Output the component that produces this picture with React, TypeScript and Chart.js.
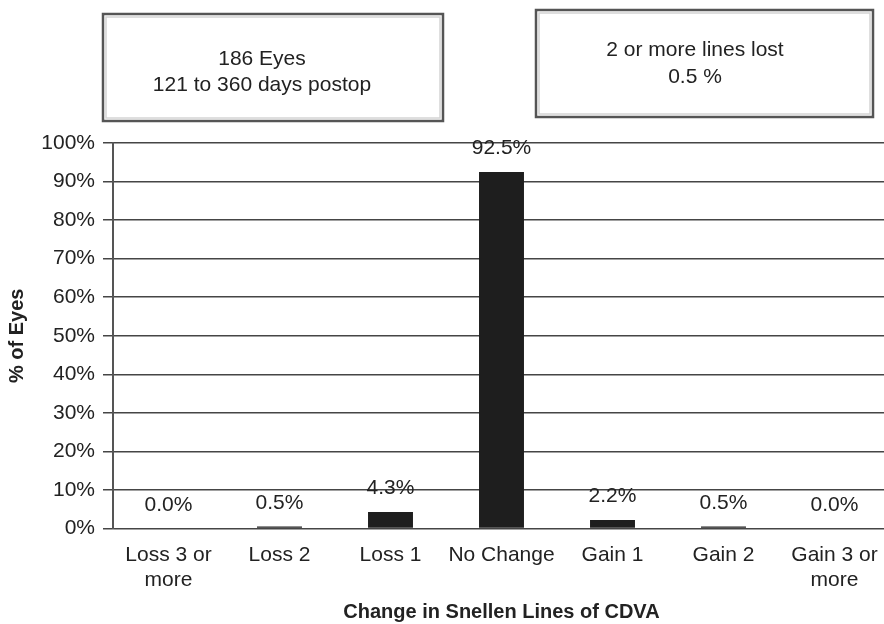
import React, { useEffect, useRef } from "react";
import { Chart, registerables } from "chart.js";

Chart.register(...registerables);

const categories: string[][] = [
  ["Loss 3 or", "more"],
  ["Loss 2"],
  ["Loss 1"],
  ["No Change"],
  ["Gain 1"],
  ["Gain 2"],
  ["Gain 3 or", "more"],
];
const values: number[] = [0.0, 0.5, 4.3, 92.5, 2.2, 0.5, 0.0];
const valueLabels: string[] = ["0.0%", "0.5%", "4.3%", "92.5%", "2.2%", "0.5%", "0.0%"];
const box1Lines: string[] = ["186 Eyes", "121 to 360 days postop"];
const box2Lines: string[] = ["2 or more lines lost", "0.5 %"];
const yTitle = "% of Eyes";
const xTitle = "Change in Snellen Lines of CDVA";

const FONT = "'Liberation Sans', Arial, Helvetica, sans-serif";

const overlayPlugin = {
  id: "overlay",
  afterDatasetsDraw(chart: any) {
    const ctx = chart.ctx;
    const meta = chart.getDatasetMeta(0);
    ctx.save();
    ctx.fillStyle = "#222";
    ctx.font = `21px ${FONT}`;
    ctx.textAlign = "center";
    ctx.textBaseline = "middle";
    meta.data.forEach((el: any, i: number) => {
      ctx.fillText(valueLabels[i], el.x, el.y - 23.5);
    });

    const drawBox = (l: number, t: number, r: number, b: number, cx: number, lines: string[], y0: number, dy: number) => {
      ctx.fillStyle = "#fff";
      ctx.fillRect(l, t, r - l, b - t);
      ctx.strokeStyle = "#d4d4d4";
      ctx.lineWidth = 1.5;
      ctx.strokeRect(l + 3, t + 3, r - l - 6, b - t - 6);
      ctx.strokeStyle = "#555";
      ctx.lineWidth = 2.5;
      ctx.strokeRect(l, t, r - l, b - t);
      ctx.fillStyle = "#222";
      ctx.font = `21px ${FONT}`;
      lines.forEach((s, k) => ctx.fillText(s, cx, y0 + k * dy));
    };
    drawBox(103, 14, 443, 121, 262, box1Lines, 59, 26);
    drawBox(536, 10, 873, 117, 695, box2Lines, 50, 27);
    ctx.restore();
  },
};

export default function App() {
  const ref = useRef<HTMLCanvasElement>(null);
  useEffect(() => {
    document.body.style.margin = "0";
    document.body.style.overflow = "hidden";
    const chart = new Chart(ref.current!, {
      type: "bar",
      data: {
        labels: categories,
        datasets: [
          {
            data: values,
            backgroundColor: "#1e1e1e",
            borderWidth: 0,
            barPercentage: 0.405,
            categoryPercentage: 1,
          },
        ],
      },
      plugins: [overlayPlugin],
      options: {
        animation: false,
        responsive: false,
        layout: { padding: { top: 143, right: 2, left: 0, bottom: 0 } },
        plugins: { legend: { display: false }, tooltip: { enabled: false } },
        scales: {
          x: {
            grid: { display: false, drawTicks: false },
            border: { display: false },
            ticks: {
              color: "#222",
              font: { family: FONT, size: 21, lineHeight: 1.2 },
              padding: 14,
              maxRotation: 0,
              autoSkip: false,
            },
            title: {
              display: true,
              text: xTitle,
              color: "#222",
              font: { family: FONT, size: 20, weight: "bold", lineHeight: 1.2 },
              padding: { top: 0, bottom: 0 },
            },
            afterFit: (s: any) => {
              s.height = 95.5;
            },
          },
          y: {
            min: 0,
            max: 100,
            grid: { color: "#454545", lineWidth: 1.5, tickLength: 10, drawTicks: true },
            border: { display: true, color: "#555", width: 2 },
            ticks: {
              stepSize: 10,
              color: "#222",
              padding: 8,
              font: { family: FONT, size: 21 },
              callback: (v: any) => `${v}%`,
            },
            title: {
              display: true,
              text: yTitle,
              color: "#222",
              font: { family: FONT, size: 20, weight: "bold", lineHeight: 1.2 },
              padding: { top: 5, bottom: 0 },
            },
            afterFit: (s: any) => {
              s.width = 113;
            },
          },
        },
      },
    });
    return () => chart.destroy();
  }, []);
  return (
    <div style={{ width: 892, height: 624, background: "#fff" }}>
      <canvas ref={ref} width={892} height={624} style={{ width: 892, height: 624, display: "block" }} />
    </div>
  );
}
